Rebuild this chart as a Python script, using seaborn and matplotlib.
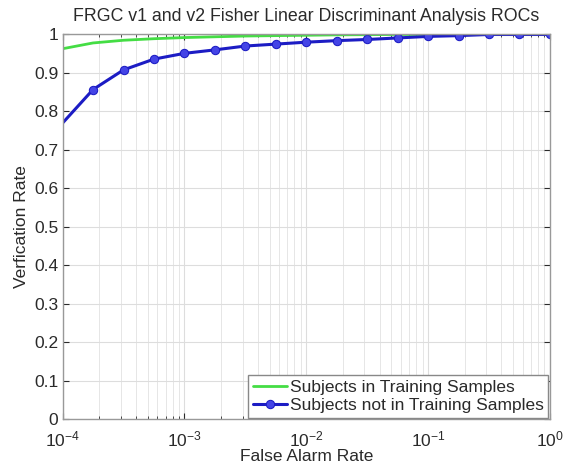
import numpy as np
import pandas as pd
import matplotlib
matplotlib.use("Agg")
import matplotlib.pyplot as plt
from matplotlib.ticker import LogLocator, FixedLocator, NullFormatter
import seaborn as sns

# false alarm rates, quarter-decade steps from 1e-4 to 1e0
far = [1e-4, 1.778e-4, 3.162e-4, 5.623e-4, 1e-3, 1.778e-3, 3.162e-3, 5.623e-3,
       1e-2, 1.778e-2, 3.162e-2, 5.623e-2, 1e-1, 1.778e-1, 3.162e-1, 5.623e-1, 1.0]

# verification rates
in_training = [0.963, 0.978, 0.985, 0.989, 0.992, 0.994, 0.996, 0.997,
               0.998, 0.999, 0.9995, 1.0, 1.0, 1.0, 1.0, 1.0, 1.0]
not_in_training = [0.770, 0.857, 0.908, 0.936, 0.951, 0.960, 0.970, 0.975,
                   0.980, 0.984, 0.987, 0.991, 0.995, 0.997, 1.0, 1.0, 1.0]

labels = ["Subjects in Training Samples", "Subjects not in Training Samples"]

df = pd.DataFrame({
    "far": far * 2,
    "rate": in_training + not_in_training,
    "group": [labels[0]] * len(far) + [labels[1]] * len(far),
})

sns.set_style("ticks")
plt.rcParams["font.family"] = ["Liberation Sans", "DejaVu Sans"]
fs = 12.5
txt = "#2a2a2a"

fig = plt.figure(figsize=(5.64, 4.66), dpi=100)
ax = fig.add_axes([0.111, 0.100, 0.864, 0.826])

sns.lineplot(data=df[df.group == labels[0]], x="far", y="rate", color="#44dd44",
             lw=2, label=labels[0], ax=ax)
sns.lineplot(data=df[df.group == labels[1]], x="far", y="rate", color="#1c1cc4",
             lw=2.2, marker="o", markersize=6, markerfacecolor="#4444e6",
             markeredgecolor="#1c1cc4", markevery=list(range(1, len(far))),
             label=labels[1], ax=ax)

ax.set_xscale("log")
ax.set_xlim(1e-4, 1)
ax.set_ylim(0, 1)
ax.yaxis.set_major_locator(FixedLocator(np.arange(0, 1.01, 0.1)))
ax.set_yticklabels(["0"] + [f"{v:.1f}" for v in np.arange(0.1, 0.95, 0.1)] + ["1"])
ax.xaxis.set_major_locator(LogLocator(base=10, numticks=10))
ax.xaxis.set_minor_locator(LogLocator(base=10, subs=np.arange(2, 10), numticks=20))
ax.xaxis.set_minor_formatter(NullFormatter())

ax.grid(True, which="major", color="#dddddd", lw=0.8)
ax.grid(True, which="minor", axis="x", color="#e6e6e6", lw=0.7)
ax.tick_params(which="both", direction="in", top=True, right=True,
               labelsize=fs, colors=txt)
ax.tick_params(which="major", length=4)
ax.tick_params(which="minor", length=2)
ax.tick_params(axis="x", pad=7)
ax.tick_params(axis="y", pad=3)
for s in ax.spines.values():
    s.set_color("#999999")
    s.set_linewidth(1)

ax.set_title("FRGC v1 and v2 Fisher Linear Discriminant Analysis ROCs",
             fontsize=12.8, color=txt, pad=10)
ax.set_xlabel("False Alarm Rate", fontsize=fs, color=txt, labelpad=0)
ax.set_ylabel("Verfication Rate", fontsize=fs, color=txt, labelpad=4)

leg = ax.legend(loc="lower right", fontsize=fs, frameon=True, fancybox=False,
                borderpad=0.25, handlelength=2.0, handletextpad=0.15,
                labelspacing=0.2, borderaxespad=0.1)
leg.get_frame().set_edgecolor("#888888")
leg.get_frame().set_linewidth(1)
leg.get_frame().set_alpha(1)
for t in leg.get_texts():
    t.set_color(txt)

fig.savefig("out.png", dpi=100)
